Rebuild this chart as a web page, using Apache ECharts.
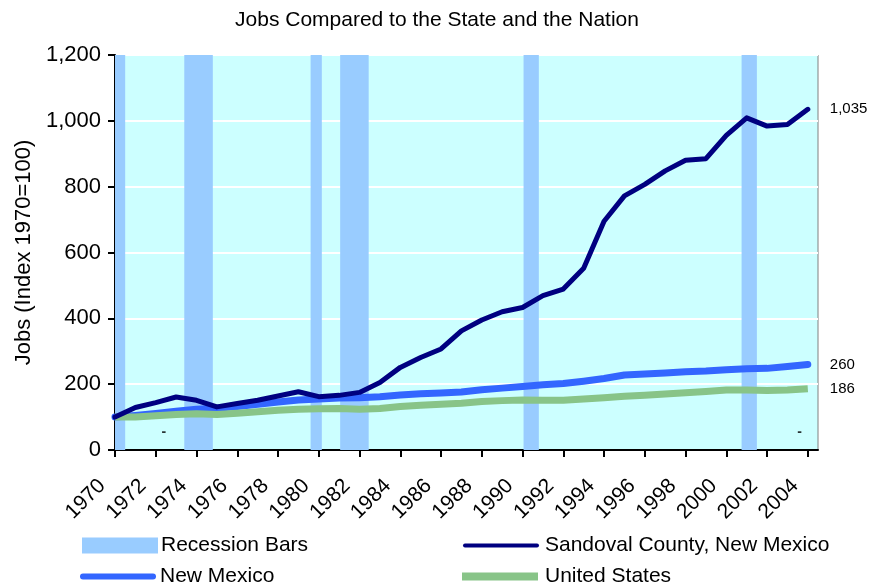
<!DOCTYPE html>
<html>
<head>
<meta charset="utf-8">
<script src="https://cdn.jsdelivr.net/npm/echarts@6/dist/echarts.min.js"></script>
<style>
    html, body { margin: 0; padding: 0; background: #fff; }
    #chart { width: 874px; height: 588px; }
</style>
</head>
<body>
<div id="chart"></div>
<script>
    // Data
    var years = [1970, 1971, 1972, 1973, 1974, 1975, 1976, 1977, 1978, 1979,
                 1980, 1981, 1982, 1983, 1984, 1985, 1986, 1987, 1988, 1989,
                 1990, 1991, 1992, 1993, 1994, 1995, 1996, 1997, 1998, 1999,
                 2000, 2001, 2002, 2003, 2004];
    var sandoval = [100, 129, 144, 161, 151, 131, 141, 151, 164, 177,
                    162, 166, 175, 205, 251, 281, 307, 362, 395, 420,
                    433, 469, 489, 552, 695, 772, 807, 848, 880, 885,
                    956, 1009, 984, 989, 1035];
    var newMexico = [100, 105, 111, 118, 124, 127, 132, 139, 146, 152,
                     155, 158, 159, 162, 167, 171, 173, 176, 183, 188,
                     193, 198, 202, 209, 217, 228, 231, 234, 238, 240,
                     244, 247, 248, 254, 260];
    var unitedStates = [100, 100, 104, 108, 110, 108, 112, 116, 121, 124,
                        125, 126, 124, 126, 132, 136, 139, 142, 147, 150,
                        152, 151, 151, 155, 159, 163, 166, 170, 174, 178,
                        182, 182, 181, 182, 186];
    var recessionStart = [1969.9, 1973.4, 1979.6, 1981.05, 1990.05, 2000.75];
    var recessionEnd   = [1970.5, 1974.8, 1980.15, 1982.45, 1990.8, 2001.5];
    var xTicks = [1970, 1972, 1974, 1976, 1978, 1980, 1982, 1984, 1986,
                  1988, 1990, 1992, 1994, 1996, 1998, 2000, 2002, 2004];
    var dashYears = [1972.4, 2003.6];
    var dashValues = [53, 53];

    var FONT = 'Liberation Sans, Arial, sans-serif';

    function fmt(v){
        return String(v).replace(/\B(?=(\d{3})+(?!\d))/g, ',');
    }

    function pairs(values){
        return years.map(function(y, i){ return [y, values[i]]; });
    }

    var recessionAreas = recessionStart.map(function(s, i){
        return [{ xAxis: s }, { xAxis: recessionEnd[i] }];
    });

    function legendAt(name, left, top, icon, h, textShift){
        return {
            data: [name],
            left: left,
            top: top,
            icon: icon,
            itemWidth: 76,
            itemHeight: h,
            itemGap: 0,
            padding: 0,
            selectedMode: false,
            textStyle: { fontFamily: FONT, fontSize: 21, color: '#000', padding: [0, 0, 0, textShift] }
        };
    }

    function endLabel(){
        return {
            show: true,
            distance: 22,
            fontSize: 15,
            color: '#000',
            fontFamily: FONT,
            formatter: function(p){ return fmt(p.value[1]); }
        };
    }

    var options = {
        animation: false,
        textStyle: { fontFamily: FONT },
        title: {
            text: 'Jobs Compared to the State and the Nation',
            left: 'center',
            top: 5,
            textStyle: { fontFamily: FONT, fontSize: 21, fontWeight: 'normal', color: '#000' }
        },
        legend: [
            legendAt('Recession Bars', 82, 535, 'rect', 16, -2),
            legendAt('Sandoval County, New Mexico', 463, 535, 'path://M2,0 L74,0 A2,2 0 0 1 74,4 L2,4 A2,2 0 0 1 2,0 Z', 5, 1),
            legendAt('New Mexico', 80, 566, 'path://M3,0 L73,0 A3,3 0 0 1 73,6 L3,6 A3,3 0 0 1 3,0 Z', 7, -1),
            legendAt('United States', 462, 566, 'rect', 8, 2)
        ],
        grid: {
            left: 115,
            right: 56,
            top: 55,
            bottom: 138,
            show: true,
            backgroundColor: '#CCFFFF',
            borderColor: '#808080',
            borderWidth: 1
        },
        xAxis: {
            type: 'value',
            min: 1970,
            max: 2004.5,
            interval: 2,
            axisLine: { lineStyle: { color: '#000', width: 2 } },
            axisTick: { show: true, length: 7, lineStyle: { color: '#000', width: 2 }, customValues: xTicks },
            axisLabel: {
                customValues: xTicks,
                rotate: 45,
                margin: 20,
                fontSize: 21,
                color: '#000',
                fontFamily: FONT,
                padding: [0, 18, 0, 0],
                formatter: function(v){ return String(v); }
            },
            splitLine: { show: false }
        },
        yAxis: {
            type: 'value',
            min: 0,
            max: 1200,
            interval: 200,
            name: 'Jobs (Index 1970=100)',
            nameLocation: 'middle',
            nameGap: 80,
            nameTextStyle: { fontFamily: FONT, fontSize: 22, color: '#000' },
            axisLine: { show: true, lineStyle: { color: '#000', width: 2 } },
            axisTick: { show: true, length: 7, lineStyle: { color: '#000', width: 2 } },
            axisLabel: {
                margin: 14,
                fontSize: 22,
                color: '#000',
                fontFamily: FONT,
                formatter: function(v){ return fmt(v); }
            },
            splitLine: { show: true, lineStyle: { color: '#fff', width: 2 } }
        },
        series: [
            {
                name: 'Recession Bars',
                type: 'bar',
                data: [],
                itemStyle: { color: '#99CCFF' },
                z: 1,
                markArea: {
                    silent: true,
                    itemStyle: { color: '#99CCFF', opacity: 1 },
                    data: recessionAreas
                }
            },
            {
                name: 'Sandoval County, New Mexico',
                type: 'line',
                data: pairs(sandoval),
                symbol: 'none',
                z: 6,
                lineStyle: { color: '#000080', width: 5, cap: 'round', join: 'round' },
                itemStyle: { color: '#000080' },
                endLabel: endLabel()
            },
            {
                name: 'New Mexico',
                type: 'line',
                data: pairs(newMexico),
                symbol: 'none',
                z: 4,
                lineStyle: { color: '#3366FF', width: 7, cap: 'round', join: 'round' },
                itemStyle: { color: '#3366FF' },
                endLabel: endLabel()
            },
            {
                name: 'United States',
                type: 'line',
                data: pairs(unitedStates),
                symbol: 'none',
                z: 5,
                lineStyle: { color: '#88C488', width: 7, cap: 'butt', join: 'round' },
                itemStyle: { color: '#88C488' },
                endLabel: endLabel()
            },
            {
                name: 'dash',
                type: 'scatter',
                symbolSize: 0,
                z: 3,
                data: dashYears.map(function(y, i){ return [y, dashValues[i]]; }),
                label: {
                    show: true,
                    position: 'inside',
                    formatter: '-',
                    fontSize: 14,
                    fontWeight: 'bold',
                    color: '#000',
                    fontFamily: FONT
                }
            }
        ]
    };

    var chart = echarts.init(document.getElementById('chart'));
    chart.setOption(options);
</script>
</body>
</html>
